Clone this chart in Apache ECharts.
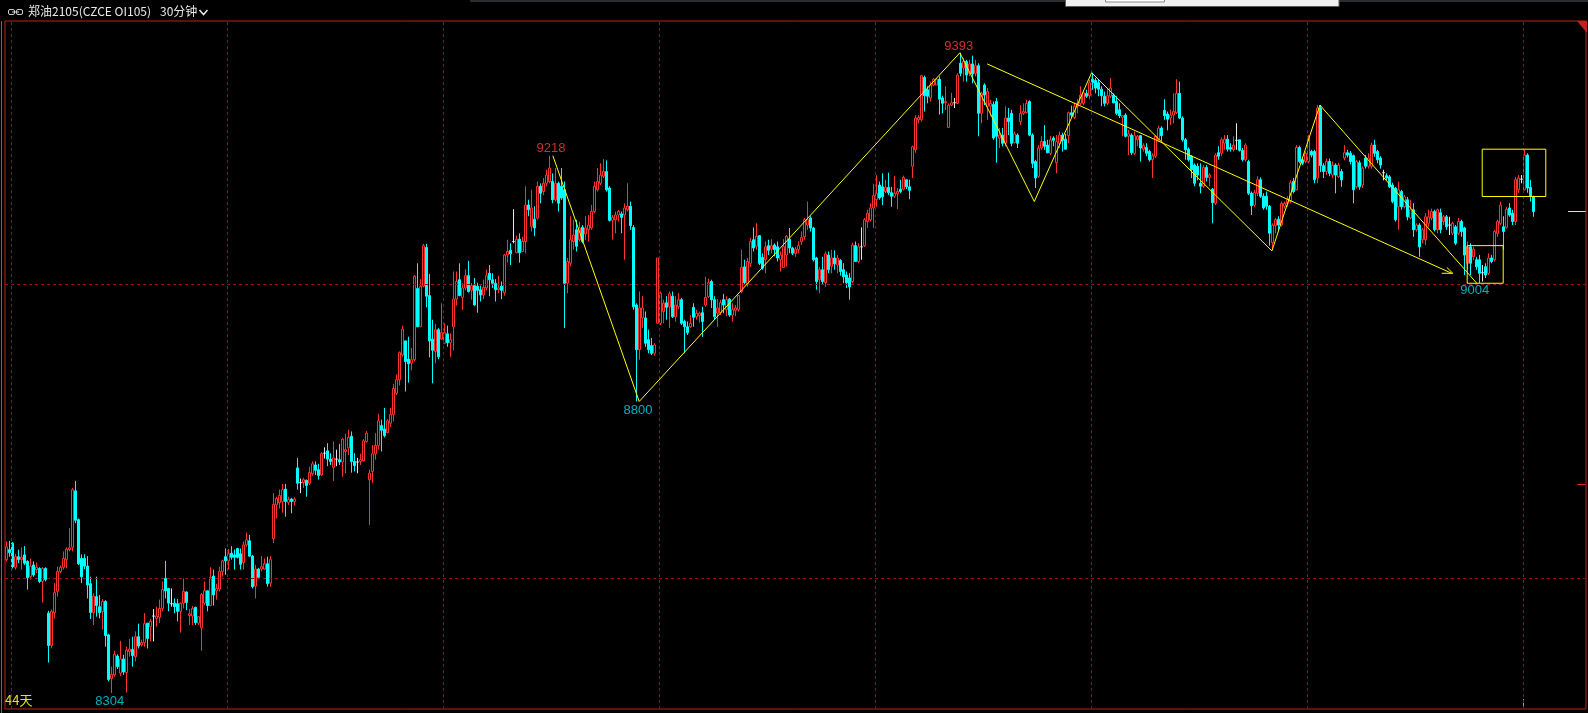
<!DOCTYPE html>
<html><head><meta charset="utf-8">
<script src="https://cdn.jsdelivr.net/npm/echarts@6/dist/echarts.min.js"></script>
<style>html,body{margin:0;padding:0;background:#000;}#c{width:1588px;height:713px;}</style>
</head><body><div id="c"></div>
<script>
// OHLC rows: [open, close, low, high] — 30-minute bars
const ohlcA = [
[8531,8553,8528,8562],[8548,8543,8536,8563],[8559,8519,8516,8561],[8518,8536,8514,8541],[8536,8531,8525,8548],
[8531,8535,8514,8552],[8539,8525,8522,8554],[8528,8500,8480,8530],[8502,8520,8497,8533],[8522,8505,8502,8528],
[8514,8518,8508,8526],[8516,8494,8491,8518],[8494,8516,8458,8518],[8516,8497,8494,8518],[8440,8385,8356,8444],
[8385,8443,8380,8446],[8441,8475,8431,8491],[8477,8511,8468,8519],[8511,8518,8508,8521],[8518,8533,8514,8545],
[8531,8549,8516,8552],[8548,8551,8545,8585],[8552,8650,8545,8653],[8648,8598,8593,8665],[8599,8524,8522,8601],
[8533,8502,8491,8540],[8533,8520,8515,8540],[8520,8488,8465,8537],[8490,8441,8430,8502],[8441,8469,8420,8474],
[8468,8453,8434,8502],[8451,8441,8431,8471],[8443,8460,8412,8464],[8460,8402,8383,8462],[8403,8327,8324,8405],
[8329,8336,8304,8349],[8335,8370,8332,8376],[8367,8349,8345,8370],[8338,8362,8333,8393],[8362,8340,8335,8369],
[8339,8377,8305,8383],[8375,8379,8366,8396],[8378,8368,8349,8400],[8366,8400,8358,8409],[8400,8384,8380,8422],
[8386,8390,8383,8395],[8390,8422,8383,8440],[8423,8397,8380,8423],[8417,8426,8392,8430],[8435,8435,8392,8447],
[8431,8435,8417,8451],[8433,8448,8423,8463],[8448,8480,8443,8494],[8499,8478,8465,8529],[8482,8457,8443,8482],
[8456,8456,8451,8482],[8457,8451,8440,8465],[8456,8443,8426,8464],[8443,8457,8407,8458],[8457,8477,8448,8499],
[8476,8458,8445,8477],[8436,8439,8420,8447],[8435,8448,8420,8452],[8450,8424,8420,8451],[8423,8434,8420,8434],
[8415,8472,8376,8474],[8457,8478,8454,8494],[8478,8453,8443,8478],[8453,8501,8453,8518],[8503,8471,8453,8514],
[8478,8482,8463,8490],[8481,8511,8477,8519],[8511,8529,8502,8531],[8536,8529,8505,8550],[8529,8541,8514,8549],
[8542,8535,8531,8554],[8539,8535,8514,8548],[8550,8535,8533,8551],[8541,8523,8514,8550],[8526,8556,8514,8562],
[8556,8565,8553,8577],[8563,8537,8536,8573],[8537,8485,8482,8539],[8486,8515,8465,8522],[8515,8501,8499,8517],
[8515,8519,8511,8537],[8515,8524,8514,8533],[8524,8490,8485,8536],[8491,8531,8485,8537],[8567,8625,8559,8644]
];
const ohlcB = [
[8624,8635,8601,8638],[8628,8640,8618,8650],[8630,8650,8611,8660],[8651,8630,8604,8660],[8628,8633,8624,8638],
[8634,8630,8610,8636],[8630,8634,8623,8637],[8687,8661,8650,8704],[8662,8662,8644,8669],[8662,8667,8653,8670],
[8666,8657,8638,8667],[8661,8679,8658,8689],[8677,8694,8674,8698],[8692,8683,8675,8698],[8684,8674,8667,8694],
[8675,8711,8673,8714],[8712,8712,8703,8722],[8716,8702,8690,8729],[8702,8698,8692,8712],[8688,8704,8665,8732],
[8702,8702,8690,8718],[8701,8697,8692,8728],[8697,8736,8672,8738],[8715,8718,8678,8745],[8721,8739,8709,8752],
[8741,8698,8679,8749],[8698,8691,8681,8712],[8697,8697,8678,8704],[8698,8701,8692,8711],[8699,8733,8698,8736],
[8732,8746,8730,8750],[8667,8678,8590,8684],[8681,8711,8661,8726],[8711,8725,8701,8746],[8725,8767,8718,8779],
[8759,8751,8715,8769],[8753,8742,8739,8789],[8747,8767,8746,8770],[8763,8778,8757,8789],[8778,8822,8766,8830],
[8814,8837,8811,8846],[8837,8883,8827,8885],[8879,8923,8876,8929],[8903,8868,8817,8903],[8872,8864,8832,8910],
[8865,8871,8853,8891],[8871,9013,8868,9015],[8992,8927,8927,9035],[8927,8996,8927,9008],[8996,9065,8994,9068],
[9062,8979,8960,9068],[8980,8903,8875,9017],[8906,8887,8831,8939],[8885,8922,8865,8932],[8922,8876,8872,8925],
[8906,8917,8905,8967],[8899,8917,8899,8933],[8915,8900,8893,8929],[8900,8905,8876,8916],[8927,8974,8887,9021],
[8974,9004,8963,9021],[9007,8980,8979,9035],[8977,8993,8956,9001],[8993,9014,8989,9025],[9014,8987,8985,9039],
[8989,8997,8973,9001],[8997,8964,8963,9010],[8996,8989,8951,9002],[8990,8981,8970,8997],[8981,8994,8974,9007],
[8993,9014,8989,9024],[9018,9007,8979,9032],[9007,9001,8993,9018],[9001,8990,8970,9008],[8990,8993,8984,9014],
[8996,8989,8974,9004],[8985,9049,8980,9051],[9049,9055,9036,9075],[9057,9051,9032,9069],[9072,9072,9069,9127],
[9053,9076,9052,9082],[9076,9053,9036,9086],[9055,9072,9055,9080]
];
const ohlcC = [
[9072,9134,9052,9166],[9134,9126,9115,9143],[9098,9129,9089,9160],[9110,9095,9081,9132],[9112,9166,9109,9174],
[9166,9154,9137,9171],[9157,9171,9151,9180],[9171,9185,9166,9194],[9174,9197,9171,9218],[9174,9143,9137,9188],
[9143,9171,9140,9197],[9171,9137,9123,9174],[9166,9146,9143,9197],[9160,9001,8925,9174],[9001,9038,8984,9044],
[9035,9075,9030,9115],[9072,9083,9058,9109],[9092,9064,9055,9109],[9075,9095,9072,9106],[9096,9072,9069,9100],
[9085,9095,9075,9115],[9092,9100,9072,9117],[9095,9123,9092,9134],[9123,9166,9120,9174],[9160,9174,9157,9197],
[9171,9185,9168,9205],[9183,9191,9180,9212],[9191,9160,9157,9210],[9163,9108,9106,9166],[9108,9113,9075,9117],
[9109,9117,9086,9123],[9117,9123,9106,9126],[9119,9113,9086,9123],[9117,9129,9041,9137],[9126,9132,9123,9171],
[9132,9099,9092,9140],[9096,8961,8956,9100],[8964,8888,8800,8967],[8888,8959,8871,8987],[8942,8959,8925,8979],
[8942,8899,8893,8953],[8905,8888,8882,8922],[8895,8882,8879,8908],[8882,8896,8878,8899],[8933,9044,8933,9044],
[8933,8984,8930,8987],[8953,8967,8933,8973],[8968,8960,8939,8979],[8961,8983,8925,8987],[8979,8944,8942,8987],
[8944,8964,8936,8979],[8961,8973,8957,8984],[8973,8933,8930,8976],[8936,8927,8882,8939],[8927,8917,8913,8936],
[8927,8933,8925,8947],[8960,8943,8927,8967],[8944,8950,8939,8956],[8946,8950,8934,8953],[8951,8936,8910,8961],
[8964,8977,8961,9012],[8978,9002,8976,9009],[9004,8973,8959,9007],[8973,8944,8939,8979],[8950,8959,8927,8974],
[8951,8968,8947,8973],[8973,8964,8950,8983],[8956,8973,8945,8979],[8974,8947,8944,8976],[8947,8956,8936,8967],
[8955,8959,8945,8964],[8956,8980,8953,8981],[8987,9028,8984,9058],[9029,9002,8998,9041],[9000,9038,8995,9044],
[9035,9072,9029,9078],[9075,9061,9055,9096],[9064,9081,9058,9103],[9082,9035,9032,9083],[9045,9027,9024,9052],
[9041,9063,9018,9072],[9065,9057,9049,9075],[9059,9065,9052,9076],[9066,9058,9047,9069],[9063,9044,9038,9072],
[9041,9049,9021,9055],[9028,9063,9027,9076],[9049,9081,9029,9083]
];
const ohlcD = [
[9076,9061,9052,9095],[9061,9052,9049,9063],[9052,9059,9046,9063],[9058,9065,9052,9072],[9072,9079,9066,9089],
[9080,9109,9075,9112],[9100,9109,9092,9140],[9112,9095,9089,9115],[9095,9041,9038,9097],[9044,9004,8990,9046],
[9007,9024,8984,9029],[9024,9004,8998,9046],[9002,9051,8995,9055],[9049,9024,9018,9055],[9030,9044,9018,9058],
[9044,9034,9024,9057],[9032,9044,9018,9049],[9040,9021,9014,9042],[9024,9012,9001,9035],[9015,9002,8993,9021],
[9010,8995,8973,9018],[9004,9066,9001,9070],[9065,9038,9038,9072],[9038,9063,9035,9069],[9063,9063,9041,9096],
[9065,9109,9063,9112],[9106,9120,9095,9126],[9109,9129,9106,9137],[9129,9150,9095,9170],[9143,9154,9131,9185],
[9168,9146,9143,9174],[9165,9148,9134,9188],[9157,9164,9154,9177],[9164,9155,9151,9189],[9155,9149,9131,9165],
[9149,9154,9146,9183],[9153,9157,9127,9163],[9161,9157,9154,9177],[9161,9181,9159,9184],[9177,9165,9161,9177],
[9165,9159,9144,9177],[9200,9233,9180,9235],[9228,9282,9223,9287],[9279,9283,9273,9287],[9279,9354,9276,9355],
[9351,9320,9293,9354],[9330,9319,9307,9336],[9316,9338,9310,9344],[9338,9348,9336,9350],[9338,9348,9338,9350],
[9348,9314,9288,9353],[9316,9307,9290,9320],[9308,9310,9296,9336],[9266,9304,9265,9307],[9304,9308,9302,9325],
[9308,9308,9299,9316],[9307,9355,9306,9358],[9375,9358,9353,9393],[9367,9378,9344,9384],[9378,9355,9344,9381],
[9358,9374,9353,9381],[9374,9357,9341,9388],[9358,9371,9353,9381],[9371,9290,9251,9375],[9290,9324,9273,9327],
[9338,9321,9304,9341],[9302,9327,9279,9333],[9302,9307,9285,9313],[9305,9248,9245,9310],[9310,9251,9206,9316],
[9248,9253,9231,9265],[9253,9239,9234,9265],[9239,9282,9234,9302],[9282,9276,9253,9299],[9290,9239,9234,9296],
[9240,9255,9239,9259],[9253,9239,9231,9256],[9276,9290,9270,9304],[9290,9293,9287,9307],[9291,9307,9290,9313],
[9310,9253,9251,9312],[9253,9205,9197,9256],[9208,9180,9163,9211],[9183,9231,9180,9236],[9231,9242,9228,9251],
[9242,9234,9228,9270],[9236,9223,9222,9245],[9222,9245,9219,9251]
];
const ohlcE = [
[9248,9244,9234,9251],[9206,9242,9188,9253],[9239,9253,9231,9259],[9253,9244,9225,9257],[9246,9229,9228,9255],
[9252,9291,9239,9293],[9291,9287,9283,9303],[9283,9302,9280,9308],[9302,9307,9290,9314],[9307,9321,9304,9336],
[9307,9325,9304,9330],[9324,9319,9316,9330],[9320,9342,9314,9347],[9348,9342,9330,9359],[9346,9333,9324,9350],
[9342,9331,9319,9347],[9331,9320,9302,9336],[9319,9307,9302,9327],[9307,9320,9304,9333],[9319,9333,9316,9350],
[9321,9308,9307,9324],[9310,9290,9287,9319],[9296,9286,9282,9307],[9283,9286,9251,9287],[9287,9251,9249,9290],
[9251,9255,9219,9262],[9253,9223,9219,9256],[9222,9252,9219,9259],[9245,9251,9234,9253],[9252,9231,9208,9253],
[9229,9235,9225,9239],[9232,9222,9217,9239],[9225,9211,9208,9228],[9211,9218,9180,9222],[9217,9251,9214,9253],
[9245,9265,9242,9269],[9265,9252,9242,9268],[9295,9286,9279,9314],[9289,9280,9261,9293],[9282,9287,9270,9296],
[9287,9293,9273,9324],[9291,9324,9289,9348],[9324,9282,9280,9344],[9282,9245,9242,9285],[9245,9228,9211,9248],
[9229,9211,9208,9232],[9217,9194,9180,9219],[9202,9171,9166,9205],[9200,9185,9176,9205],[9171,9166,9154,9205],
[9166,9198,9163,9202],[9198,9181,9174,9202],[9181,9185,9166,9188],[9161,9138,9103,9163],[9137,9219,9134,9222],
[9223,9217,9211,9234],[9222,9245,9217,9249],[9239,9246,9228,9253],[9246,9229,9225,9253],[9232,9229,9225,9239],
[9228,9236,9225,9251],[9244,9244,9228,9273],[9245,9227,9225,9245],[9227,9211,9208,9231],[9211,9236,9208,9239],
[9208,9154,9151,9211],[9154,9133,9117,9157],[9134,9155,9131,9160],[9154,9177,9149,9183],[9177,9149,9146,9181],
[9149,9129,9126,9154],[9149,9132,9126,9157],[9132,9086,9065,9134],[9070,9100,9058,9103],[9099,9109,9086,9112],
[9110,9100,9092,9115],[9100,9137,9098,9140],[9132,9137,9128,9140],[9137,9143,9131,9149],[9140,9172,9137,9176],
[9174,9157,9154,9180],[9160,9232,9159,9236],[9232,9208,9205,9235],[9211,9205,9202,9214],[9208,9222,9205,9225],
[9208,9248,9205,9253]
];
const ohlcF = [
[9225,9219,9215,9228],[9225,9177,9171,9228],[9180,9299,9171,9304],[9299,9201,9190,9304],[9201,9191,9180,9205],
[9191,9208,9185,9213],[9208,9188,9183,9213],[9185,9202,9180,9208],[9202,9185,9154,9205],[9182,9202,9180,9206],
[9191,9177,9165,9195],[9214,9223,9210,9236],[9223,9219,9215,9228],[9222,9208,9203,9226],[9218,9160,9137,9220],
[9165,9208,9162,9211],[9206,9165,9160,9210],[9168,9197,9163,9200],[9214,9200,9196,9219],[9200,9214,9196,9222],
[9200,9236,9196,9240],[9236,9222,9216,9245],[9225,9211,9205,9228],[9214,9202,9196,9217],[9189,9189,9176,9194],
[9184,9180,9176,9188],[9182,9165,9163,9185],[9168,9140,9137,9172],[9163,9109,9106,9165],[9131,9160,9092,9174],
[9157,9131,9126,9160],[9131,9148,9128,9151],[9143,9114,9108,9148],[9112,9126,9110,9143],[9126,9092,9080,9137],
[9092,9100,9089,9103],[9100,9063,9046,9103],[9075,9092,9069,9095],[9075,9114,9066,9120],[9103,9114,9097,9126],
[9112,9123,9108,9128],[9123,9092,9089,9126],[9092,9126,9086,9128],[9121,9092,9086,9128],[9106,9114,9100,9117],
[9114,9097,9092,9117],[9100,9100,9083,9114],[9086,9103,9083,9106],[9097,9069,9066,9100],[9086,9106,9083,9112],
[9106,9089,9080,9109],[9095,9049,9015,9097],[9035,9063,9024,9072],[9063,9035,9015,9069],[9046,9059,9040,9063],
[9041,9029,9024,9046],[9041,9018,9001,9049],[9019,9019,9004,9032],[9029,9015,9010,9035],[9018,9044,9015,9052],
[9044,9038,9035,9049],[9041,9089,9038,9092],[9086,9106,9080,9109],[9103,9134,9100,9140],[9097,9089,9058,9115],
[9096,9127,9094,9131],[9129,9117,9114,9137],[9120,9106,9100,9126],[9106,9177,9100,9182],[9160,9180,9155,9185],
[9178,9178,9171,9185],[9160,9219,9160,9228],[9219,9163,9155,9222],[9164,9149,9140,9177],[9148,9123,9114,9150]
];
const bars = [].concat(ohlcA, ohlcB, ohlcC, ohlcD, ohlcE, ohlcF);

// annotation values (bar index, price)
const gridPrices = [8500, 9000];
const zigzag = [[182.1,9218],[210.9,8800],[317.8,9393],[342.6,9140],[361.7,9359],[421.8,9056],[437.8,9304],[490.1,9001]];
const trendLine = [[326.9,9374],[481.7,9018]];
const arrowHead = [[478.4,9018],[482.1,9018],[480.1,9028]];
const boxes = [[486.9,498.9,9001,9065],[491.9,513.1,9148.5,9229]];
const extremes = [
  {v:[181.5,9218], text:'9218', pos:'top', dist:1, color:'#ff3c3c'},
  {v:[210.5,8800], text:'8800', pos:'bottom', dist:2, color:'#00d8e8'},
  {v:[317.4,9393], text:'9393', pos:'top', dist:0, color:'#ff3c3c'},
  {v:[489.4,9004], text:'9004', pos:'bottom', dist:2, color:'#00d8e8'},
  {v:[34.4,8304], text:'8304', pos:'bottom', dist:2, color:'#00d8e8'}
];
const lastPrice = 9124;
const refPrice = 8660;
const SLOTS = 527;
const BARS_PER_GRID = 72;
const categories = Array.from({length: SLOTS}, (_, i) => 'K' + i);

const chart = echarts.init(document.getElementById('c'), null, {renderer: 'canvas'});
const RED_FRAME = '#c4201c';
const DASH = '#9a1010';
const YEL = '#ffff00';

function boxPath(b){ return [[b[0],b[2]],[b[1],b[2]],[b[1],b[3]],[b[0],b[3]],[b[0],b[2]]]; }

const option = {
  backgroundColor: '#000',
  animation: false,
  grid: {left: 5, top: 21, width: 1581, height: 688, show: true, borderColor: RED_FRAME, borderWidth: 1, backgroundColor: 'transparent'},
  xAxis: [
    {type: 'category', data: categories, boundaryGap: true, show: false},
    {type: 'value', min: -0.5, max: SLOTS - 0.5, show: false}
  ],
  yAxis: {type: 'value', min: 8277, max: 9447, show: false, splitLine: {show: false}},
  series: [
    {
      type: 'line', xAxisIndex: 1, data: [], silent: true, z: 1,
      markLine: {
        silent: true, symbol: 'none', label: {show: false},
        lineStyle: {color: DASH, type: [3, 3], width: 1},
        data: Array.from({length: 8}, (_, k) => ({xAxis: 1.667 + BARS_PER_GRID * k}))
          .concat(gridPrices.map(p => ({yAxis: p})))
      }
    },
    {
      type: 'candlestick', xAxisIndex: 0, data: bars, barWidth: 2, z: 3,
      itemStyle: {color: '#000', color0: '#00ffff', borderColor: '#ff3232', borderColor0: '#00ffff', borderColorDoji: '#e8e8e8', borderWidth: 1}
    },
    {type: 'line', xAxisIndex: 1, data: zigzag, symbol: 'none', z: 6, lineStyle: {color: YEL, width: 1}, silent: true},
    {type: 'line', xAxisIndex: 1, data: trendLine, symbol: 'none', z: 6, lineStyle: {color: YEL, width: 1}, silent: true},
    {type: 'line', xAxisIndex: 1, data: arrowHead, symbol: 'none', z: 6, lineStyle: {color: YEL, width: 1}, silent: true},
    {type: 'line', xAxisIndex: 1, data: boxPath(boxes[0]), symbol: 'none', z: 6, lineStyle: {color: YEL, width: 1}, silent: true},
    {type: 'line', xAxisIndex: 1, data: boxPath(boxes[1]), symbol: 'none', z: 6, lineStyle: {color: YEL, width: 1}, silent: true},
    {
      type: 'line', xAxisIndex: 1, data: [], silent: true, z: 6,
      markLine: {
        silent: true, symbol: 'none', label: {show: false},
        data: [
          [{coord: [520.5, lastPrice], lineStyle: {color: YEL, width: 1, type: 'solid'}}, {coord: [526.4, lastPrice]}],
          [{coord: [523.5, refPrice], lineStyle: {color: '#e02020', width: 1, type: 'solid'}}, {coord: [526.4, refPrice]}]
        ]
      }
    },
    {
      type: 'scatter', xAxisIndex: 1, symbolSize: 0, z: 7, silent: true,
      data: extremes.map(e => ({
        value: e.v,
        label: {show: true, formatter: e.text, position: e.pos, distance: e.dist, color: e.color,
                fontSize: 13, fontFamily: 'Liberation Sans, Arial, sans-serif'}
      }))
    }
  ],
  graphic: [
    // header
    {type: 'rect', shape: {x: 8.5, y: 9.5, width: 6, height: 5, r: 1.5}, style: {fill: 'none', stroke: '#d0d0d0', lineWidth: 1}},
    {type: 'rect', shape: {x: 16.5, y: 9.5, width: 6, height: 5, r: 1.5}, style: {fill: 'none', stroke: '#d0d0d0', lineWidth: 1}},
    {type: 'line', shape: {x1: 12, y1: 12, x2: 19, y2: 12}, style: {stroke: '#d0d0d0', lineWidth: 1}},
    {type: 'text', left: 28, top: 5, style: {text: '郑油2105(CZCE OI105)', fill: '#e8e8e8', font: '12px "Noto Sans CJK SC", sans-serif'}},
    {type: 'text', left: 160, top: 5, style: {text: '30分钟', fill: '#e8e8e8', font: '12px "Noto Sans CJK SC", sans-serif'}},
    {type: 'polyline', shape: {points: [[199.5, 10], [203.5, 14.5], [207.5, 10]]}, style: {fill: 'none', stroke: '#e8e8e8', lineWidth: 1.5}},
    // top strip / popup
    {type: 'rect', shape: {x: 470, y: 0, width: 1118, height: 2}, style: {fill: '#2a2d31'}},
    {type: 'rect', shape: {x: 1065.5, y: -1, width: 273.5, height: 7.5}, style: {fill: '#f0f0f0', stroke: '#5a5a5a', lineWidth: 1}},
    {type: 'rect', shape: {x: 1105.5, y: -1, width: 59, height: 3}, style: {fill: '#ffffff', stroke: '#8a8a8a', lineWidth: 1}},
    // frame extras
    {type: 'line', shape: {x1: 1.5, y1: 21, x2: 1.5, y2: 713}, style: {stroke: '#6a6a6a', lineWidth: 1}},
    {type: 'polygon', shape: {points: [[1577, 21], [1587, 21], [1587, 33]]}, style: {fill: '#c4201c'}},
    {type: 'line', shape: {x1: 1523.5, y1: 699, x2: 1523.5, y2: 709}, style: {stroke: '#a0a0a0', lineWidth: 1}},
    // bottom-left day count
    {type: 'text', left: 5, top: 694, style: {text: '44天', fill: '#e6e600', font: '13px "Noto Sans CJK SC", sans-serif'}}
  ]
};
chart.setOption(option);
</script>
</body></html>
